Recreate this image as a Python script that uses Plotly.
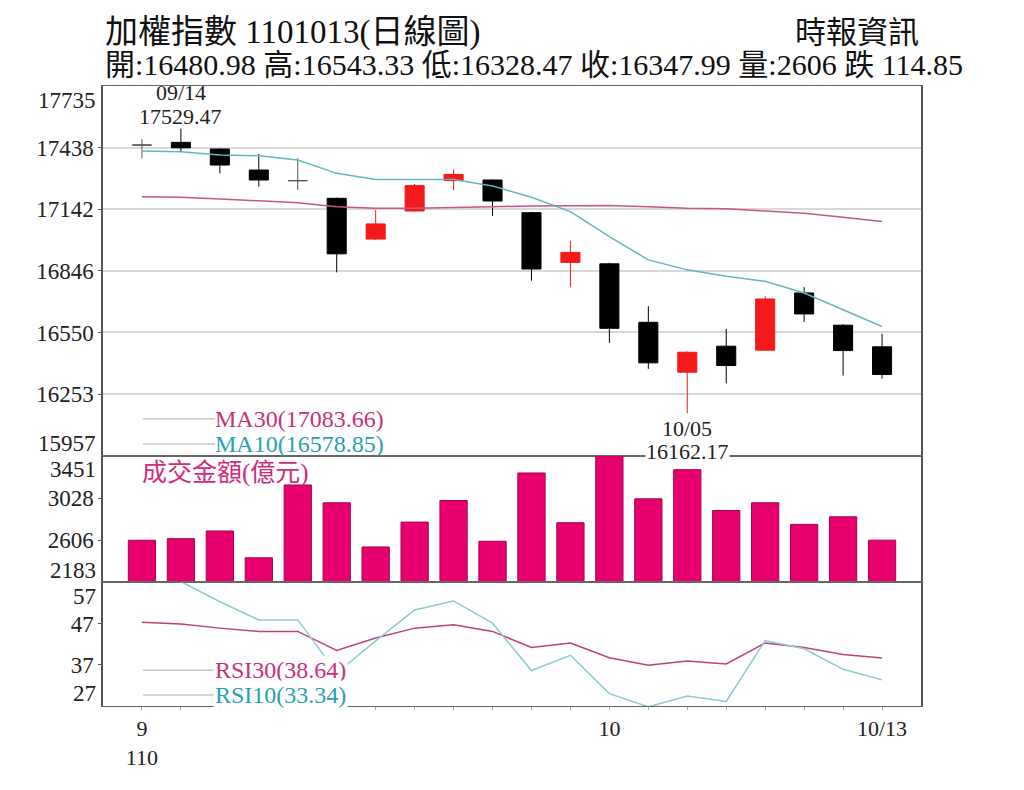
import plotly.graph_objects as go
from plotly.subplots import make_subplots

# 交易日 (民國110年)
dates = ["09/13", "09/14", "09/15", "09/16", "09/17", "09/22", "09/23", "09/24", "09/27", "09/28",
         "09/29", "09/30", "10/01", "10/04", "10/05", "10/06", "10/07", "10/08", "10/12", "10/13"]

# K線
opens = [17451, 17464, 17432, 17331, 17280, 17195, 16999, 17134, 17280, 17283,
         17126, 16887, 16880, 16599, 16359, 16484, 16465, 16740, 16585, 16480.98]
highs = [17480, 17529.47, 17435, 17408, 17387, 17198, 17139, 17264, 17334, 17286,
         17130, 16991, 16885, 16676, 16458, 16567, 16724, 16768, 16590, 16543.33]
lows = [17387, 17419, 17315, 17251, 17235, 16839, 16995, 17130, 17235, 17110,
        16799, 16768, 16500, 16375, 16162.17, 16305, 16462, 16601, 16343, 16328.47]
closes = [17451, 17438, 17355, 17283, 17280, 16928, 17072, 17256, 17310, 17182,
          16855, 16935, 16570, 16404, 16455, 16391, 16711, 16639, 16462.84, 16347.99]

ma10 = [17422, 17419, 17403, 17400, 17379, 17315, 17286, 17286, 17286, 17254,
        17200, 17131, 17011, 16899, 16851, 16820, 16796, 16740, 16660, 16578.85]
ma30 = [17203, 17200, 17192, 17184, 17174, 17155, 17147, 17147, 17152, 17155,
        17158, 17158, 17161, 17155, 17147, 17145, 17134, 17123, 17104, 17083.66]

# 成交金額(億元)
volume = [2605, 2621, 2698, 2429, 3159, 2980, 2538, 2787, 3003, 2595,
          3279, 2781, 3451, 3020, 3312, 2903, 2980, 2764, 2840, 2606]

rsi30 = [47.3, 46.9, 45.9, 45.1, 45.1, 40.5, 43.5, 45.9, 46.7, 45.1,
         41.2, 42.3, 38.7, 36.9, 37.9, 37.2, 42.3, 41.2, 39.5, 38.64]
rsi10 = [59.0, 57.2, 52.3, 47.9, 47.9, 35.0, 42.8, 50.3, 52.5, 47.1,
         35.6, 39.3, 30.0, 26.8, 29.4, 28.1, 42.9, 40.9, 35.9, 33.34]

# axis ticks
price_ticks = [15957, 16253, 16550, 16846, 17142, 17438, 17735]
vol_ticks = [2183, 2606, 3028, 3451]
rsi_ticks = [27, 37, 47, 57]
x_tick_dates = ["09/13", "10/01", "10/13"]
x_tick_text = ["9<br>110", "10", "10/13"]

title1 = "加權指數 1101013(日線圖)"
title2 = "開:16480.98 高:16543.33 低:16328.47 收:16347.99 量:2606 跌 114.85"
source = "時報資訊"

FONT = "Liberation Serif, Noto Sans CJK TC, serif"
RED = "#f41a1a"
PINK = "#e8006f"
MAG = "#c9307a"
CYAN = "#2a9fb3"

fig = make_subplots(rows=3, cols=1, shared_xaxes=True, vertical_spacing=0,
                    row_heights=[371, 127, 124])

# split the candles: up (red), down (black), flat (gray cross)
groups = [
    ([i for i in range(len(dates)) if closes[i] > opens[i]], RED),
    ([i for i in range(len(dates)) if closes[i] < opens[i]], "#000000"),
    ([i for i in range(len(dates)) if closes[i] == opens[i]], "#555555"),
]
for idx, col in groups:
    fig.add_trace(go.Candlestick(
        x=[dates[i] for i in idx],
        open=[opens[i] for i in idx], high=[highs[i] for i in idx],
        low=[lows[i] for i in idx], close=[closes[i] for i in idx],
        increasing=dict(line=dict(color=col, width=1), fillcolor=col),
        decreasing=dict(line=dict(color=col, width=1), fillcolor=col),
        showlegend=False, hoverinfo="skip"), row=1, col=1)

fig.add_trace(go.Scatter(x=dates, y=ma30, mode="lines", line=dict(color="#c8558a", width=1.5),
                         showlegend=False), row=1, col=1)
fig.add_trace(go.Scatter(x=dates, y=ma10, mode="lines", line=dict(color="#62b7bf", width=1.5),
                         showlegend=False), row=1, col=1)

fig.add_trace(go.Bar(x=dates, y=[v - vol_ticks[0] for v in volume], base=vol_ticks[0],
                     marker=dict(color=PINK, line=dict(color="#a8004f", width=1)),
                     width=0.7, showlegend=False), row=2, col=1)

fig.add_trace(go.Scatter(x=dates, y=rsi30, mode="lines", line=dict(color="#c23f7c", width=1.5),
                         showlegend=False), row=3, col=1)
fig.add_trace(go.Scatter(x=dates, y=rsi10, mode="lines", line=dict(color="#8ccbd0", width=1.5),
                         showlegend=False), row=3, col=1)

# page body has an 8px margin, so the figure is 16px smaller than the window
H = 622.0
fig.update_layout(
    width=1008, height=774, autosize=False,
    margin=dict(l=95, r=95, t=78, b=74),
    paper_bgcolor="white", plot_bgcolor="white",
    font=dict(family=FONT, size=23, color="#222222"),
    boxgap=0.3,
)
fig.update_yaxes(domain=[(124 + 127) / H, 1], row=1, col=1)
fig.update_yaxes(domain=[124 / H, (124 + 127) / H], row=2, col=1)
fig.update_yaxes(domain=[0, 124 / H], row=3, col=1)

fig.update_xaxes(type="category", categoryorder="array", categoryarray=dates,
                 range=[-1, len(dates)], rangeslider_visible=False,
                 showgrid=False, showline=True, linecolor="#666666", linewidth=1,
                 mirror=True, zeroline=False)
fig.update_xaxes(tickmode="array", tickvals=dates,
                 ticktext=[x_tick_text[x_tick_dates.index(d)] if d in x_tick_dates else "" for d in dates],
                 ticks="outside", ticklen=3, tickcolor="#aaaaaa",
                 tickfont=dict(size=22), row=3, col=1)

common_y = dict(showline=True, linecolor="#555555", linewidth=1.5, mirror=True, zeroline=False,
                ticks="outside", ticklen=3, tickcolor="#555555", tickfont=dict(size=23))
fig.update_yaxes(range=[price_ticks[0], price_ticks[-1]], tickmode="array",
                 tickvals=price_ticks[1:-1], ticktext=[str(v) for v in price_ticks[1:-1]],
                 showgrid=True, gridcolor="#d8d8d8", gridwidth=1.5, row=1, col=1, **common_y)
fig.update_yaxes(range=[vol_ticks[0], vol_ticks[-1]], tickmode="array",
                 tickvals=vol_ticks[1:-1], ticktext=[str(v) for v in vol_ticks[1:-1]],
                 showgrid=False, row=2, col=1, **common_y)
fig.update_yaxes(range=[rsi_ticks[0], rsi_ticks[-1]], tickmode="array",
                 tickvals=rsi_ticks[1:-1], ticktext=[str(v) for v in rsi_ticks[1:-1]],
                 showgrid=False, row=3, col=1, **common_y)

ann = []
# edge tick labels sit a bit inside the panel
for yref, lo, hi in [("y", price_ticks[0], price_ticks[-1]), ("y2", vol_ticks[0], vol_ticks[-1]),
                     ("y3", rsi_ticks[0], rsi_ticks[-1])]:
    ann.append(dict(xref="paper", x=0, xanchor="right", xshift=-5, yref=yref, y=hi, yshift=-14,
                    yanchor="middle", text=str(hi), showarrow=False, font=dict(size=23)))
    ann.append(dict(xref="paper", x=0, xanchor="right", xshift=-5, yref=yref, y=lo, yshift=12,
                    yanchor="middle", text=str(lo), showarrow=False, font=dict(size=23)))

# high / low markers (date and value on two tight lines)
hi_i = highs.index(max(highs))
lo_i = lows.index(min(lows))
for txt, shift in [(dates[hi_i], 36), (f"{highs[hi_i]:.2f}", 12)]:
    ann.append(dict(x=dates[hi_i], y=highs[hi_i], xref="x", yref="y", yanchor="middle", yshift=shift,
                    text=txt, showarrow=False, font=dict(size=22)))
for txt, shift in [(dates[lo_i], -15), (f"{lows[lo_i]:.2f}", -38)]:
    ann.append(dict(x=dates[lo_i], y=lows[lo_i], xref="x", yref="y", yanchor="middle", yshift=shift,
                    text=txt, showarrow=False, bgcolor="white", borderpad=0, font=dict(size=22)))

# indicator labels
ann.append(dict(xref="x domain", x=0.134, yref="y domain", y=0.0997, xanchor="left", yanchor="middle",
                text=f"MA30({ma30[-1]:.2f})", showarrow=False, font=dict(size=24, color=MAG)))
ann.append(dict(xref="x domain", x=0.134, yref="y domain", y=0.032, xanchor="left", yanchor="middle",
                text=f"MA10({ma10[-1]:.2f})", showarrow=False, font=dict(size=24, color=CYAN)))
ann.append(dict(xref="x2 domain", x=0.045, yref="y2 domain", y=0.866, xanchor="left", yanchor="middle",
                text="成交金額(億元)", showarrow=False, font=dict(size=25, color="#d42a7c")))
ann.append(dict(xref="x3 domain", x=0.134, yref="y3 domain", y=0.29, xanchor="left", yanchor="middle",
                text=f"RSI30({rsi30[-1]:.2f})", showarrow=False, bgcolor="white",
                font=dict(size=24, color=MAG)))
ann.append(dict(xref="x3 domain", x=0.134, yref="y3 domain", y=0.089, xanchor="left", yanchor="middle",
                text=f"RSI10({rsi10[-1]:.2f})", showarrow=False, bgcolor="white",
                font=dict(size=24, color=CYAN)))

# header
ann.append(dict(xref="paper", x=0, xanchor="left", xshift=0, yref="paper", y=1, yshift=54,
                yanchor="middle", text=title1, showarrow=False, font=dict(size=33, color="#111111")))
ann.append(dict(xref="paper", x=0, xanchor="left", xshift=0, yref="paper", y=1, yshift=22,
                yanchor="middle", text=title2, showarrow=False, font=dict(size=30, color="#111111")))
ann.append(dict(xref="paper", x=1, xanchor="right", yref="paper", y=1, yshift=54,
                yanchor="middle", text=source, showarrow=False, font=dict(size=31, color="#111111")))

shapes = []
for yref, yv in [("y domain", 0.0997), ("y domain", 0.032), ("y3 domain", 0.29), ("y3 domain", 0.089)]:
    xr = "x domain" if yref == "y domain" else "x3 domain"
    shapes.append(dict(type="line", xref=xr, x0=0.049, x1=0.137, yref=yref, y0=yv, y1=yv,
                       line=dict(color="#aaaaaa", width=1)))

fig.update_layout(annotations=ann, shapes=shapes)

fig.write_html("out.html")
